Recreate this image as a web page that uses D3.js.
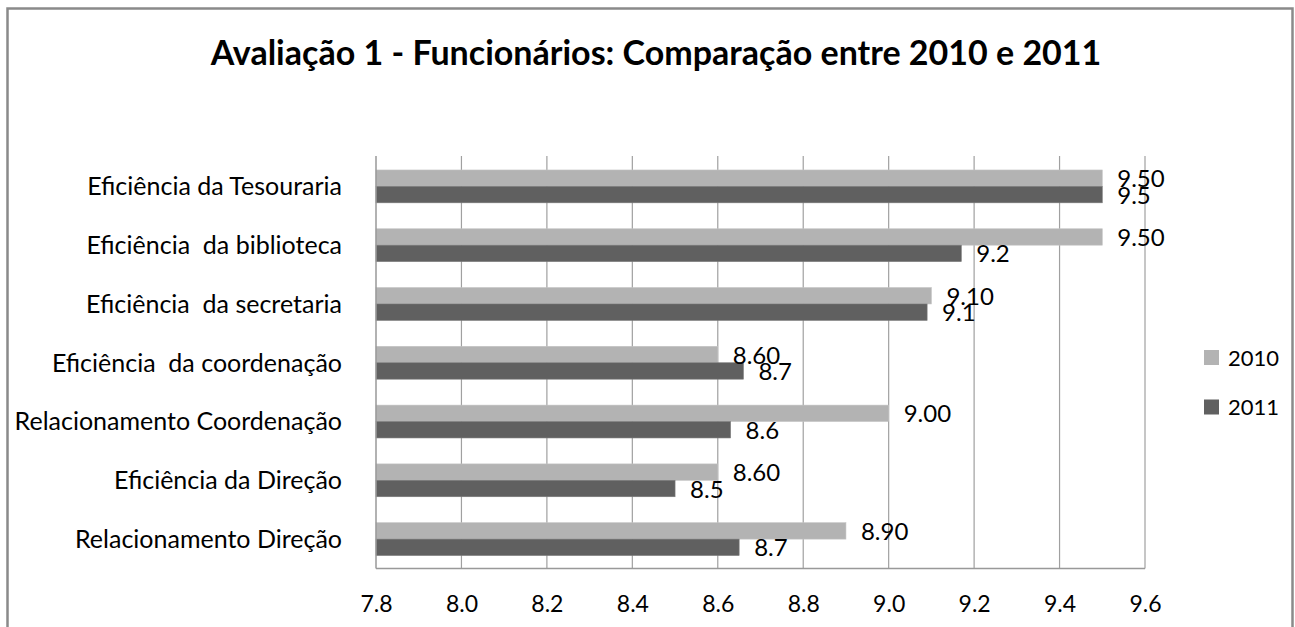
<!DOCTYPE html>
<html>
<head>
<meta charset="utf-8">
<script src="https://cdn.jsdelivr.net/npm/d3@7"></script>
<style>
  html, body { margin: 0; padding: 0; background: #fff; }
  svg { display: block; }
  text { font-family: Lato, "Open Sans", sans-serif; fill: #000; }
</style>
</head>
<body>
<svg id="chart" width="1295" height="627"></svg>
<script>
const categories = [
  "Eficiência da Tesouraria",
  "Eficiência  da biblioteca",
  "Eficiência  da secretaria",
  "Eficiência  da coordenação",
  "Relacionamento Coordenação",
  "Eficiência da Direção",
  "Relacionamento Direção"
];
const seriesNames = ["2010", "2011"];
const values2010 = [9.50, 9.50, 9.10, 8.60, 9.00, 8.60, 8.90];
const values2011 = [9.50, 9.17, 9.09, 8.66, 8.63, 8.50, 8.65];
const xTicks = [7.8, 8.0, 8.2, 8.4, 8.6, 8.8, 9.0, 9.2, 9.4, 9.6];
const titleText = "Avaliação 1 - Funcionários: Comparação entre 2010 e 2011";

const colors = { "2010": "#b3b3b3", "2011": "#606060" };
const labelFormat = { "2010": d3.format(".2f"), "2011": d3.format(".1f") };
const seriesValues = { "2010": values2010, "2011": values2011 };

const svg = d3.select("#chart");
const plot = { left: 376, right: 1145, top: 157, bottom: 568.5 };

// outer chart border
svg.append("rect")
  .attr("x", 7.5).attr("y", 8.5)
  .attr("width", 1285).attr("height", 640)
  .attr("fill", "#fff").attr("stroke", "#8a8a8a").attr("stroke-width", 2.5);

// title
svg.append("text")
  .attr("x", 656).attr("y", 65)
  .attr("text-anchor", "middle")
  .style("font-weight", "bold")
  .style("font-size", "34px")
  .text(titleText);

const x = d3.scaleLinear().domain([7.8, 9.6]).range([plot.left, plot.right]);
const y0 = d3.scaleBand().domain(categories).range([plot.top, plot.bottom]).paddingInner(0).paddingOuter(0);
const y1 = d3.scaleBand().domain(seriesNames).range([0, y0.bandwidth()]).paddingInner(0).paddingOuter(0.79);

// gridlines
svg.append("g").selectAll("line")
  .data(xTicks.slice(1))
  .join("line")
  .attr("x1", d => x(d)).attr("x2", d => x(d))
  .attr("y1", plot.top - 1).attr("y2", plot.bottom)
  .attr("stroke", "#a0a0a0").attr("stroke-width", 1.2);

// bars
const rows = categories.map((c, i) => ({ cat: c, vals: seriesNames.map(s => ({ s, v: seriesValues[s][i] })) }));
const groups = svg.append("g").selectAll("g")
  .data(rows).join("g")
  .attr("transform", d => `translate(0,${y0(d.cat)})`);

groups.selectAll("rect")
  .data(d => d.vals).join("rect")
  .attr("x", x(7.8))
  .attr("y", d => y1(d.s))
  .attr("width", d => x(d.v) - x(7.8))
  .attr("height", y1.bandwidth())
  .attr("fill", d => colors[d.s])
  .attr("stroke", d => d.s === "2010" ? "#c4c4c4" : "#7a7a7a")
  .attr("stroke-width", 0.6);

groups.selectAll("text.lbl")
  .data(d => d.vals).join("text")
  .attr("class", "lbl")
  .attr("x", d => x(d.v) + 15)
  .attr("y", d => y1(d.s) + y1.bandwidth() / 2 + 9)
  .style("font-size", "24px")
  .text(d => labelFormat[d.s](d.v));

// axes lines
svg.append("line")
  .attr("x1", plot.left).attr("x2", plot.left)
  .attr("y1", plot.top - 1).attr("y2", plot.bottom)
  .attr("stroke", "#999").attr("stroke-width", 1.5);
svg.append("line")
  .attr("x1", plot.left).attr("x2", plot.right)
  .attr("y1", plot.bottom).attr("y2", plot.bottom)
  .attr("stroke", "#999").attr("stroke-width", 1.5);

// x tick labels
const xAxis = d3.axisBottom(x).tickValues(xTicks).tickFormat(d3.format(".1f")).tickSize(0).tickPadding(0);
const gx = svg.append("g").attr("transform", `translate(0,${plot.bottom})`).call(xAxis);
gx.select(".domain").remove();
gx.selectAll("text")
  .attr("y", 43).attr("dy", null)
  .style("font-size", "23px").style("font-family", "Lato, sans-serif").attr("fill", "#000");

// category labels
const yAxis = d3.axisLeft(y0).tickSize(0).tickPadding(0);
const gy = svg.append("g").attr("transform", `translate(${plot.left - 34},0)`).call(yAxis);
gy.select(".domain").remove();
gy.selectAll("text")
  .attr("x", 0).attr("dy", null).attr("y", 8.8)
  .style("font-size", "25px").style("font-family", "Lato, sans-serif").attr("fill", "#000")
  .style("white-space", "pre").attr("xml:space", "preserve");

// legend
const legend = svg.append("g").selectAll("g")
  .data(seriesNames).join("g")
  .attr("transform", (d, i) => `translate(1204,${350 + i * 49.5})`);
legend.append("rect")
  .attr("width", 15).attr("height", 15)
  .attr("fill", d => colors[d]);
legend.append("text")
  .attr("x", 24).attr("y", 15.5)
  .style("font-size", "22px")
  .text(d => d);
</script>
</body>
</html>
